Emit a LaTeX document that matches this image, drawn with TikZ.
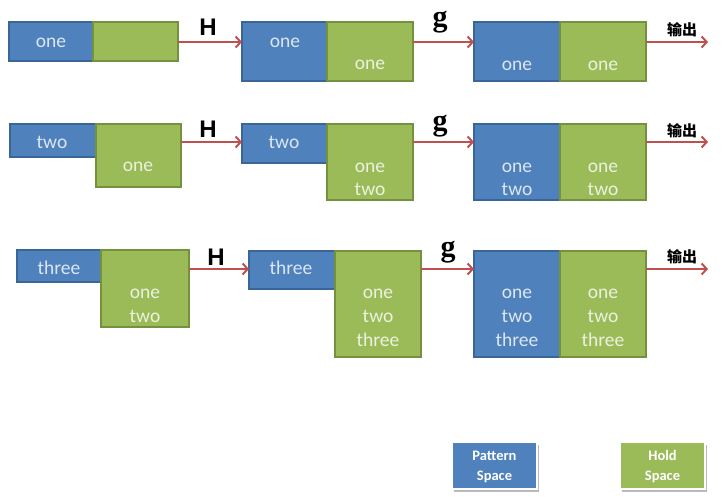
\documentclass[tikz,border=0pt]{standalone}
\usepackage{fontspec}
\setmainfont{Carlito}
\newfontfamily\cjkfont{Noto Sans CJK SC}
\newfontfamily\labsans{Liberation Sans}
\newfontfamily\labserif{Liberation Serif}
\usetikzlibrary{arrows.meta,shadows}
\definecolor{psblue}{HTML}{4F81BD}
\definecolor{psblueline}{HTML}{3A6597}
\definecolor{hsgreen}{HTML}{9BBB59}
\definecolor{hsgreenline}{HTML}{74913D}
\definecolor{arrowred}{HTML}{C0504D}
\definecolor{bluetext}{HTML}{DCE6F2}
\definecolor{greentext}{HTML}{EBF1DE}
\newcommand\mybox[6]{\node[#2, minimum width={#5-#3}, minimum height={#6-#4}] (#1) at ({(#3+#5)/2},{(#4+#6)/2}) {};}
\newcommand\myword[5]{\node[#2] (#1) at (#3,#4) {#5};}
\begin{document}
\begin{tikzpicture}[x=1pt,y=-1pt,
  pbox/.style={rectangle, fill=psblue, draw=psblueline, line width=1.2pt, inner sep=0pt, outer sep=0pt},
  hbox/.style={rectangle, fill=hsgreen, draw=hsgreenline, line width=1.2pt, inner sep=0pt, outer sep=0pt},
  bw/.style={font=\fontsize{19.5}{23}\selectfont, text=bluetext, inner sep=0pt, text height=9.1pt, text depth=0pt, yshift=-2pt},
  gw/.style={font=\fontsize{19.5}{23}\selectfont, text=greentext, inner sep=0pt, text height=9.1pt, text depth=0pt, yshift=-2pt},
  conn/.style={draw=arrowred, line width=2pt, -{Straight Barb[length=5pt,width=11pt,line width=2pt]}},
  hlab/.style={font=\labsans\bfseries\fontsize{24}{28}\selectfont, inner sep=0pt, anchor=base},
  glab/.style={font=\labserif\bfseries\fontsize{30}{32}\selectfont, inner sep=0pt, anchor=base},
  outlab/.style={font=\cjkfont\bfseries\fontsize{15}{18}\selectfont, inner sep=0pt},
  legbox/.style={rectangle, draw=white, line width=1.5pt, inner sep=0pt, outer sep=0pt,
    drop shadow={shadow xshift=2pt, shadow yshift=-3pt, opacity=0.45, fill=black!60}},
  legtext/.style={font=\bfseries\fontsize{14.5}{20}\selectfont, text=white, inner sep=0pt, align=center}
]
\useasboundingbox (0,0) rectangle (725,496);

% ---------- Row 1 ----------
\mybox{A1b}{pbox}{9}{22}{93}{61}
\mybox{A1g}{hbox}{93}{22}{178}{61}
\mybox{B1b}{pbox}{242}{22}{327}{81}
\mybox{B1g}{hbox}{327}{22}{413}{81}
\mybox{C1b}{pbox}{474}{22}{560}{81}
\mybox{C1g}{hbox}{560}{22}{646}{81}
\myword{a1t}{bw}{51}{41}{one}
\myword{b1t}{bw}{285}{41}{one}
\myword{b1g}{gw}{370}{63}{one}
\myword{c1t}{bw}{517}{64}{one}
\myword{c1g}{gw}{603}{64}{one}

% ---------- Row 2 ----------
\mybox{A2b}{pbox}{10}{124}{96}{157}
\mybox{A2g}{hbox}{96}{124}{181}{187}
\mybox{B2b}{pbox}{242}{124}{327}{163}
\mybox{B2g}{hbox}{327}{124}{413}{200}
\mybox{C2b}{pbox}{474}{124}{560}{200}
\mybox{C2g}{hbox}{560}{124}{646}{200}
\myword{a2t}{bw}{52}{142}{two}
\myword{a2g}{gw}{138}{165}{one}
\myword{b2t}{bw}{284}{142}{two}
\myword{b2g1}{gw}{370}{166}{one}
\myword{b2g2}{gw}{370}{189}{two}
\myword{c2t1}{bw}{517}{166}{one}
\myword{c2t2}{bw}{517}{189}{two}
\myword{c2g1}{gw}{603}{166}{one}
\myword{c2g2}{gw}{603}{189}{two}

% ---------- Row 3 ----------
\mybox{A3b}{pbox}{17}{250}{101}{282}
\mybox{A3g}{hbox}{101}{250}{189}{327}
\mybox{B3b}{pbox}{249}{251}{335}{289}
\mybox{B3g}{hbox}{335}{251}{421}{357}
\mybox{C3b}{pbox}{474}{251}{560}{357}
\mybox{C3g}{hbox}{560}{251}{646}{357}
\myword{a3t}{bw}{59}{268}{three}
\myword{a3g1}{gw}{145}{292}{one}
\myword{a3g2}{gw}{145}{316}{two}
\myword{b3t}{bw}{291}{268}{three}
\myword{b3g1}{gw}{378}{292}{one}
\myword{b3g2}{gw}{378}{316}{two}
\myword{b3g3}{gw}{378}{340}{three}
\myword{c3t1}{bw}{517}{292}{one}
\myword{c3t2}{bw}{517}{316}{two}
\myword{c3t3}{bw}{517}{340}{three}
\myword{c3g1}{gw}{603}{292}{one}
\myword{c3g2}{gw}{603}{316}{two}
\myword{c3g3}{gw}{603}{340}{three}

% ---------- Connectors ----------
\coordinate (r1) at (0,42);
\coordinate (r2) at (0,142);
\coordinate (r3) at (0,269);
\coordinate (O1) at (708,42);
\coordinate (O2) at (708,142);
\coordinate (O3) at (708,269);

\draw[conn] (A1g.east |- r1) -- (B1b.west |- r1);
\draw[conn] (B1g.east |- r1) -- (C1b.west |- r1);
\draw[conn] (C1g.east |- r1) -- (O1);
\draw[conn] (A2g.east |- r2) -- (B2b.west |- r2);
\draw[conn] (B2g.east |- r2) -- (C2b.west |- r2);
\draw[conn] (C2g.east |- r2) -- (O2);
\draw[conn] (A3g.east |- r3) -- (B3b.west |- r3);
\draw[conn] (B3g.east |- r3) -- (C3b.west |- r3);
\draw[conn] (C3g.east |- r3) -- (O3);

% ---------- Labels ----------
\node[hlab] (H1) at (208,35) {H};
\node[hlab] (H2) at (208,137) {H};
\node[hlab] (H3) at (216,265) {H};
\node[glab] (g1) at (440,26) {g};
\node[glab] (g2) at (440,130) {g};
\node[glab] (g3) at (448,256) {g};
\node[outlab] (out1) at (682,30) {输出};
\node[outlab] (out2) at (682,131) {输出};
\node[outlab] (out3) at (682,257) {输出};

% ---------- Legend ----------
\mybox{LegP}{legbox, fill=psblue}{452}{442}{537}{489}
\mybox{LegH}{legbox, fill=hsgreen}{620}{442}{705}{489}
\node[legtext] (LegPt) at ([yshift=-1pt]LegP.center) {Pattern\\Space};
\node[legtext] (LegHt) at ([yshift=-1pt]LegH.center) {Hold\\Space};
\end{tikzpicture}
\end{document}
